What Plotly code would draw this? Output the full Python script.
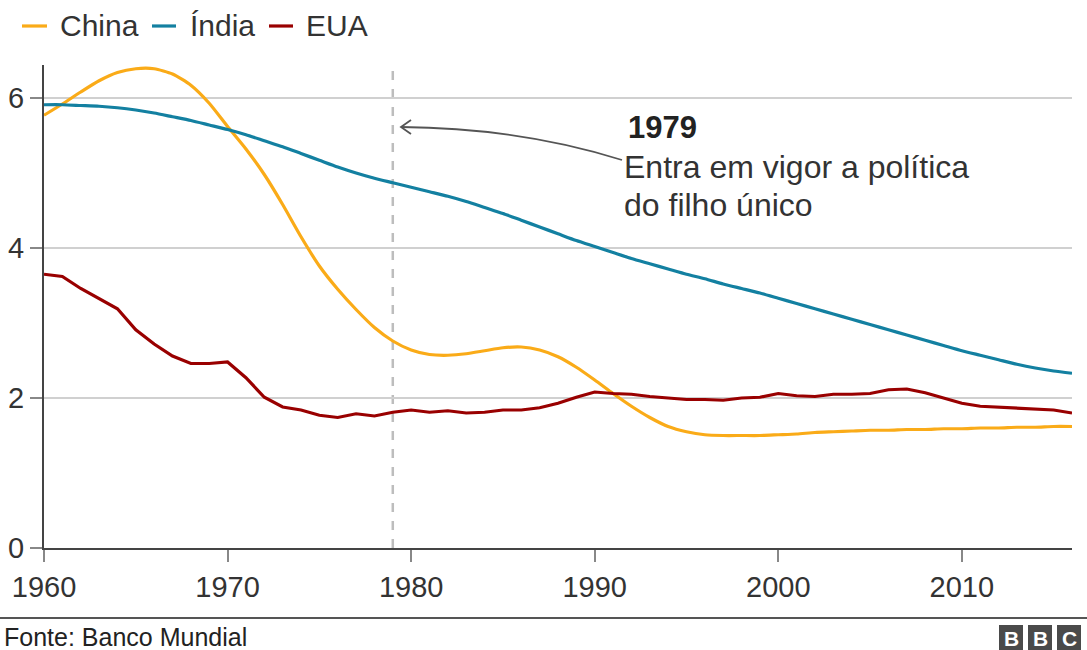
import plotly.graph_objects as go

years = list(range(1960, 2017))

china = [5.77, 5.92, 6.08, 6.23, 6.34, 6.39, 6.39, 6.32, 6.17, 5.93,
         5.62, 5.32, 4.98, 4.58, 4.15, 3.76, 3.45, 3.18, 2.94, 2.76,
         2.64, 2.58, 2.57, 2.59, 2.63, 2.67, 2.68, 2.64, 2.55, 2.41,
         2.24, 2.06, 1.89, 1.74, 1.62, 1.55, 1.51, 1.50, 1.50, 1.50,
         1.51, 1.52, 1.54, 1.55, 1.56, 1.57, 1.57, 1.58, 1.58, 1.59,
         1.59, 1.60, 1.60, 1.61, 1.61, 1.62, 1.62]

india = [5.91, 5.91, 5.90, 5.89, 5.87, 5.84, 5.80, 5.75, 5.70, 5.64,
         5.58, 5.51, 5.43, 5.35, 5.26, 5.17, 5.08, 5.00, 4.93, 4.87,
         4.81, 4.75, 4.69, 4.62, 4.54, 4.46, 4.37, 4.28, 4.19, 4.10,
         4.02, 3.94, 3.86, 3.79, 3.72, 3.65, 3.59, 3.52, 3.46, 3.40,
         3.33, 3.26, 3.19, 3.12, 3.05, 2.98, 2.91, 2.84, 2.77, 2.70,
         2.63, 2.57, 2.51, 2.45, 2.40, 2.36, 2.33]

eua = [3.65, 3.62, 3.46, 3.32, 3.19, 2.91, 2.72, 2.56, 2.46, 2.46,
       2.48, 2.27, 2.01, 1.88, 1.84, 1.77, 1.74, 1.79, 1.76, 1.81,
       1.84, 1.81, 1.83, 1.80, 1.81, 1.84, 1.84, 1.87, 1.93, 2.01,
       2.08, 2.06, 2.05, 2.02, 2.00, 1.98, 1.98, 1.97, 2.00, 2.01,
       2.06, 2.03, 2.02, 2.05, 2.05, 2.06, 2.11, 2.12, 2.07, 2.00,
       1.93, 1.89, 1.88, 1.86, 1.86, 1.84, 1.80]

series_names = ["China", "Índia", "EUA"]
series_colors = ["#FAAB18", "#1380A1", "#990000"]
x_ticks = [1960, 1970, 1980, 1990, 2000, 2010]
y_ticks = [0, 2, 4, 6]
policy_year = 1979

W, H = 1087, 650
L, R, T, B = 44, 15, 65, 102
PW, PH = W - L - R, H - T - B
X0, X1 = 1960, 2016
Y0, Y1 = 0, 6.44


def px(x):
    return (x - L) / PW


def py(y):
    return (H - B - y) / PH


def dx(x):
    return X0 + (x - L) / PW * (X1 - X0)


def dy(y):
    return Y0 + (H - B - y) / PH * (Y1 - Y0)


fig = go.Figure()
for name, vals, col in zip(series_names, [china, india, eua], series_colors):
    fig.add_trace(go.Scatter(
        x=years, y=vals, mode="lines", name=name,
        line=dict(color=col, width=3.2,
                  shape="spline" if name != "EUA" else "linear",
                  smoothing=0.6),
        showlegend=False, hoverinfo="x+y+name"))

font = "Liberation Sans, Arial, Helvetica, sans-serif"
txt = "#222222"

shapes = []
annotations = []

# vertical dashed line for 1979
shapes.append(dict(type="line", xref="x", yref="paper",
                   x0=policy_year, x1=policy_year, y0=0, y1=1,
                   line=dict(color="#BDBDBD", width=2.5, dash="dash"),
                   layer="below"))

# curved arrow
tip_x, tip_y = 401, 127
end_x, end_y = 622, 160
c_x, c_y = 520, 128
path = "M {:.4f},{:.4f} Q {:.4f},{:.4f} {:.4f},{:.4f}".format(
    dx(tip_x), dy(tip_y), dx(c_x), dy(c_y), dx(end_x), dy(end_y))
shapes.append(dict(type="path", xref="x", yref="y", path=path,
                   line=dict(color="#555555", width=1.8)))
head = "M {:.4f},{:.4f} L {:.4f},{:.4f} L {:.4f},{:.4f}".format(
    dx(tip_x + 10), dy(tip_y - 7), dx(tip_x), dy(tip_y),
    dx(tip_x + 10), dy(tip_y + 7))
shapes.append(dict(type="path", xref="x", yref="y", path=head,
                   line=dict(color="#555555", width=1.8)))

annotations.append(dict(x=dx(626), y=dy(127), xref="x", yref="y",
                        text="<b>1979</b>", showarrow=False,
                        xanchor="left", yanchor="middle",
                        font=dict(family=font, size=31, color=txt)))
annotations.append(dict(x=dx(622), y=dy(167), xref="x", yref="y",
                        text="Entra em vigor a política", showarrow=False,
                        xanchor="left", yanchor="middle",
                        font=dict(family=font, size=32, color="#333333")))
annotations.append(dict(x=dx(622), y=dy(205), xref="x", yref="y",
                        text="do filho único", showarrow=False,
                        xanchor="left", yanchor="middle",
                        font=dict(family=font, size=32, color="#333333")))

# legend (manual)
leg_pos = [(22, 47, 58), (152, 176, 188), (269, 293, 304)]
for (d0, d1, tx), name, col in zip(leg_pos, series_names, series_colors):
    shapes.append(dict(type="line", xref="paper", yref="paper",
                       x0=px(d0), x1=px(d1), y0=py(26), y1=py(26),
                       line=dict(color=col, width=3.2)))
    annotations.append(dict(x=px(tx), y=py(26), xref="paper", yref="paper",
                            text=name, showarrow=False, xanchor="left",
                            yanchor="middle",
                            font=dict(family=font, size=30, color="#333333")))

# bottom rule and source
shapes.append(dict(type="line", xref="paper", yref="paper",
                   x0=px(0), x1=px(W), y0=py(618), y1=py(618),
                   line=dict(color="#555555", width=2)))
annotations.append(dict(x=px(2), y=py(637), xref="paper", yref="paper",
                        text="Fonte: Banco Mundial", showarrow=False,
                        xanchor="left", yanchor="middle",
                        font=dict(family=font, size=25, color="#222222")))

# BBC logo
for i, letter in enumerate(["B", "B", "C"]):
    bx0 = 999 + i * 29
    shapes.append(dict(type="rect", xref="paper", yref="paper",
                       x0=px(bx0), x1=px(bx0 + 24), y0=py(651), y1=py(625),
                       fillcolor="#4A4A4A", line=dict(width=0)))
    annotations.append(dict(x=px(bx0 + 12), y=py(638), xref="paper",
                            yref="paper", text="<b>" + letter + "</b>",
                            showarrow=False, xanchor="center",
                            yanchor="middle",
                            font=dict(family=font, size=21, color="#FFFFFF")))

fig.update_layout(
    width=W, height=H,
    margin=dict(l=L, r=R, t=T, b=B, pad=0, autoexpand=False),
    paper_bgcolor="white", plot_bgcolor="white",
    showlegend=False,
    font=dict(family=font, color="#333333"),
    shapes=shapes, annotations=annotations,
    xaxis=dict(range=[X0, X1], tickvals=x_ticks,
               ticktext=[str(v) for v in x_ticks],
               showgrid=False, zeroline=False, automargin=False,
               showline=True, linecolor="#444444", linewidth=2,
               ticks="outside", ticklen=12, tickwidth=1.5,
               tickcolor="#888888",
               tickfont=dict(family=font, size=29, color="#333333")),
    yaxis=dict(range=[Y0, Y1], tickvals=y_ticks,
               ticktext=[str(v) for v in y_ticks],
               showgrid=True, gridcolor="#D0D0D0", gridwidth=2,
               zeroline=False, automargin=False,
               showline=True, linecolor="#444444", linewidth=2,
               ticks="outside", ticklen=12, tickwidth=1.5,
               tickcolor="#888888",
               tickfont=dict(family=font, size=29, color="#333333")),
)

fig.write_html("out.html",
               config={"displayModeBar": False},
               post_script="document.body.style.margin='0px';"
                           "document.body.style.padding='0px';")
